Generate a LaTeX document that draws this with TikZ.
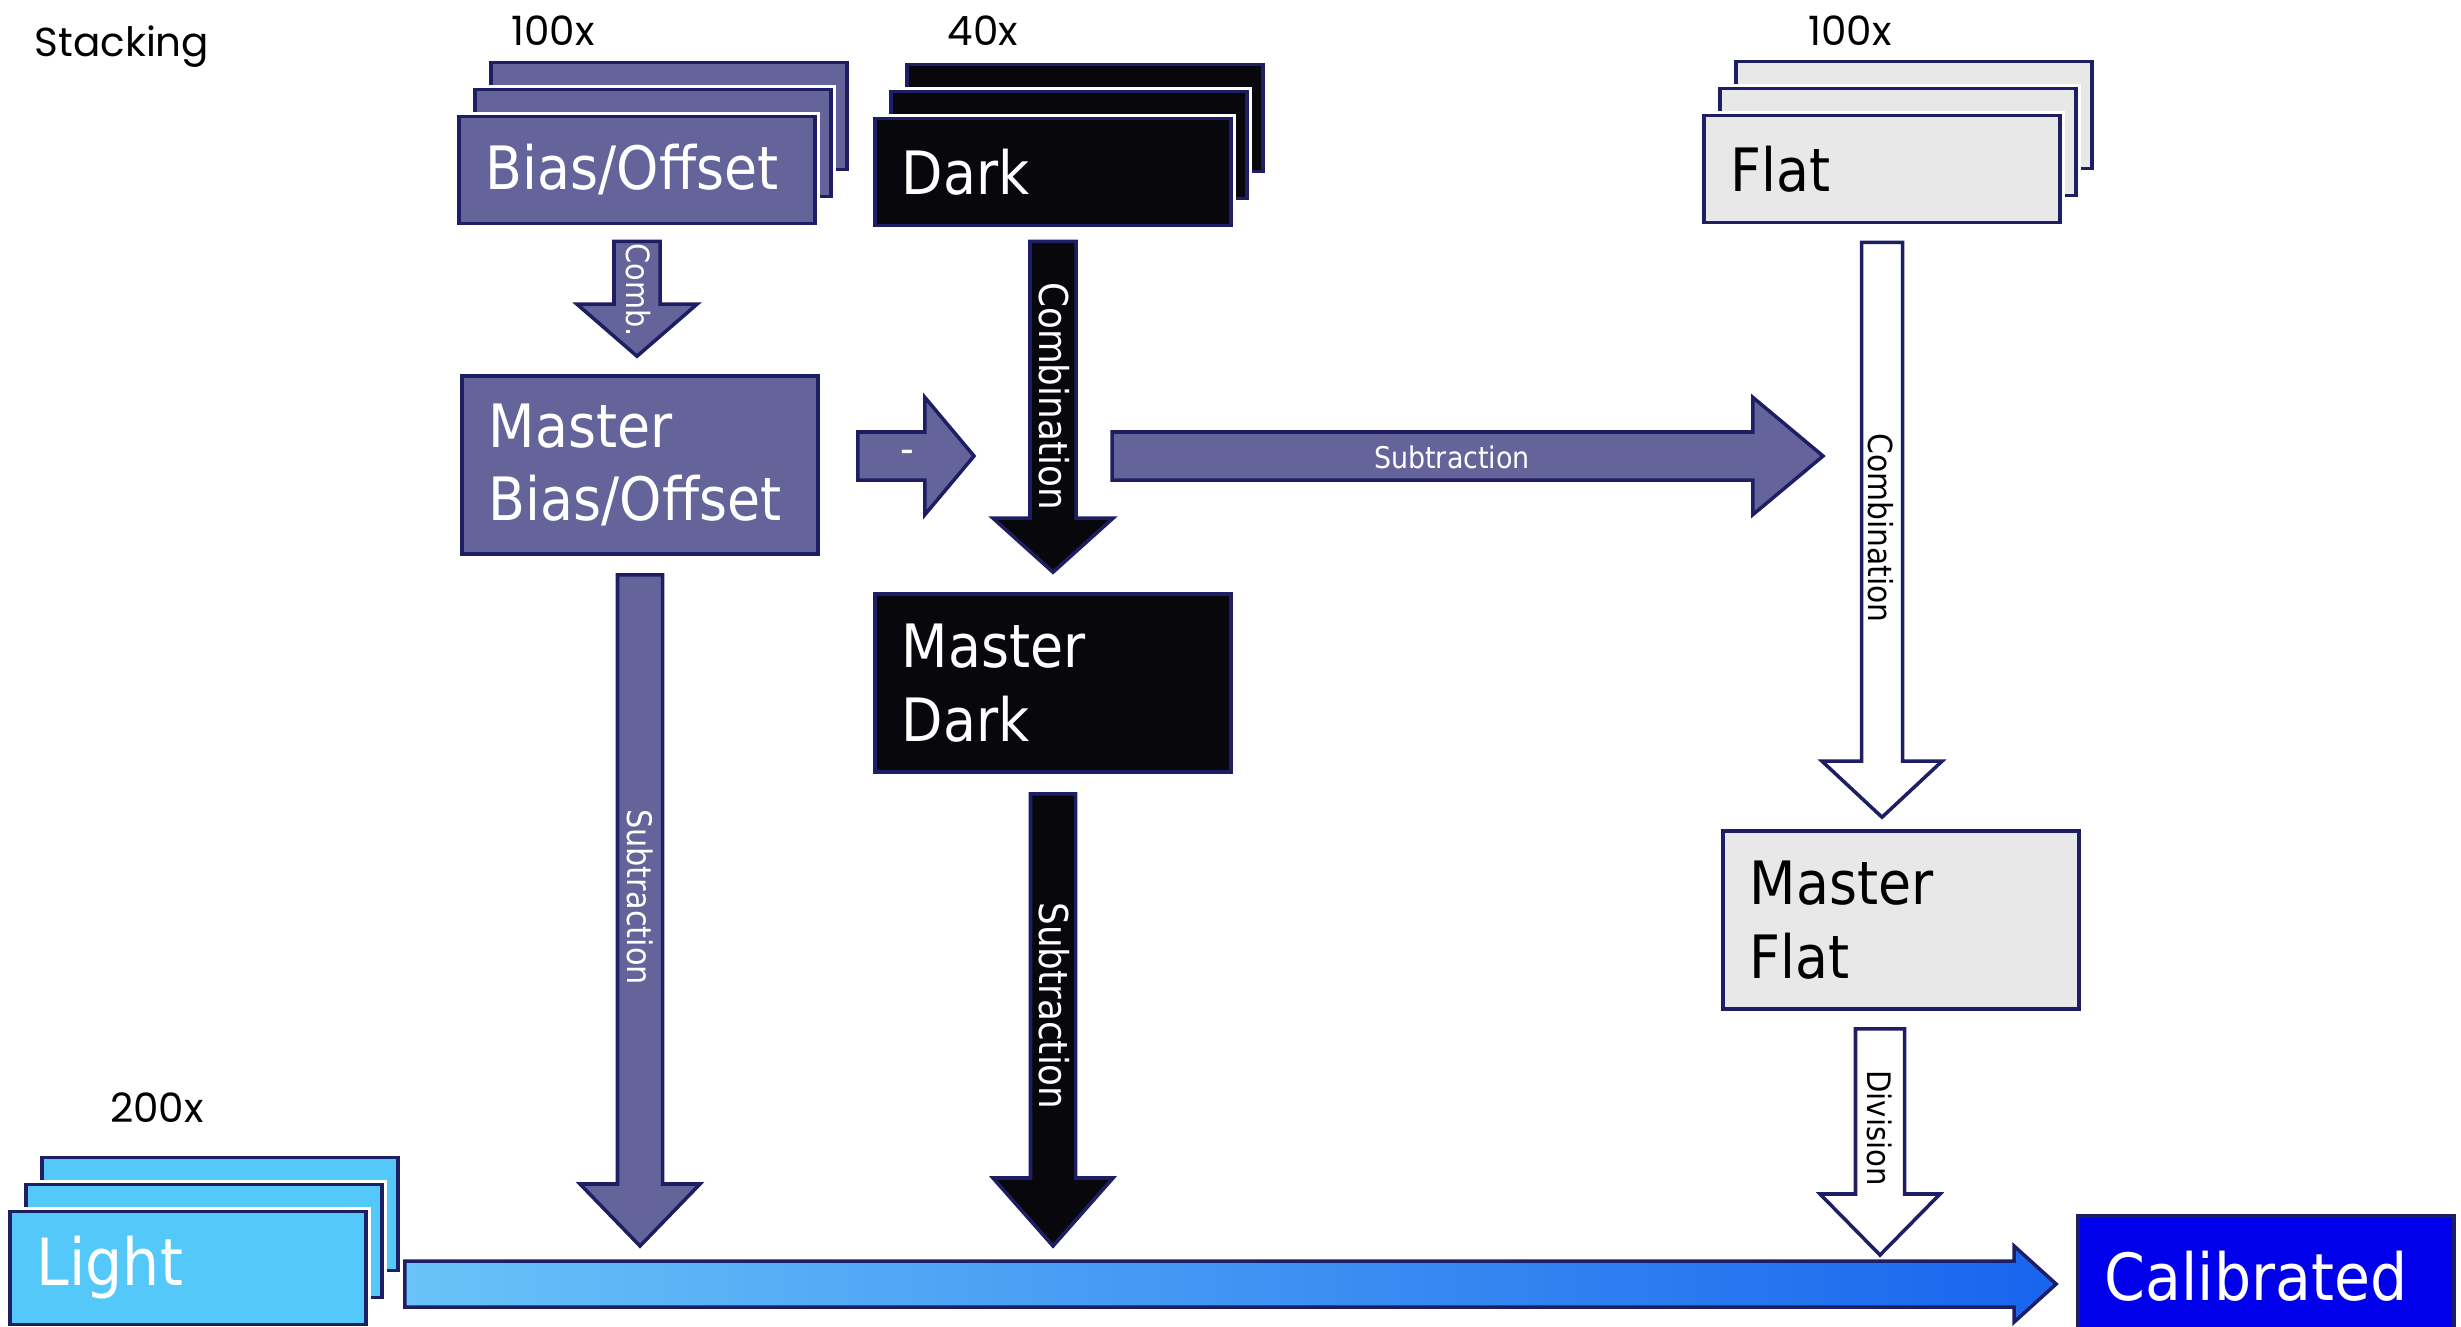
\documentclass[tikz,border=0pt]{standalone}
\usepackage{fontspec}
\setmainfont{DejaVu Sans}[FakeStretch=0.9]
\newfontfamily\countfont{Poppins}
\usetikzlibrary{calc}

\definecolor{edge}{RGB}{30,30,100}
\definecolor{biasfill}{RGB}{100,100,155}
\definecolor{darkfill}{RGB}{8,8,12}
\definecolor{flatfill}{RGB}{232,232,232}
\definecolor{lightfill}{RGB}{85,200,250}
\definecolor{calibfill}{RGB}{0,0,235}
\definecolor{skyleft}{RGB}{105,195,248}
\definecolor{skyright}{RGB}{25,100,238}

% block arrows: shaft half width, head half width, head length
\tikzset{
  fat down/.style n args={3}{to path={let \p1=(\tikztostart), \p2=(\tikztotarget) in
    (\x1-#1,\y1) -- (\x1-#1,\y2+#3) -- (\x1-#2,\y2+#3) -- (\x1,\y2)
    -- (\x1+#2,\y2+#3) -- (\x1+#1,\y2+#3) -- (\x1+#1,\y1) -- cycle}},
  fat right/.style n args={3}{to path={let \p1=(\tikztostart), \p2=(\tikztotarget) in
    (\x1,\y1+#1) -- (\x2-#3,\y1+#1) -- (\x2-#3,\y1+#2) -- (\x2,\y1)
    -- (\x2-#3,\y1-#2) -- (\x2-#3,\y1-#1) -- (\x1,\y1-#1) -- cycle}},
}

\begin{document}
\begin{tikzpicture}[x=0.01cm, y=-0.01cm,
  frame/.style={rectangle, draw=edge, line width=1pt, text=white, text width=3.02cm,
    inner xsep=0.27cm, align=left, minimum height=1.07cm,
    font=\fontsize{17}{21}\selectfont, preaction={draw=white, line width=2.5pt}},
  master/.style={frame, minimum height=1.78cm},
  bigtext/.style={font=\fontsize{18.5}{22}\selectfont},
  count/.style={font=\countfont\fontsize{11.5}{14}\selectfont},
  lbl/.style={font=\fontsize{#1}{#1}\selectfont, inner sep=0pt},
  vlbl/.style={lbl=#1, rotate=-90},
  blockline/.style={draw=edge, line width=1pt, line join=miter}]

\useasboundingbox (0,0) rectangle (2461,1326);

% Frames to stack
\path (669,116) node[frame, fill=biasfill] (bias3) {}
      +(-16,27) node[frame, fill=biasfill] (bias2) {}
      +(-32,54) node[frame, fill=biasfill] (bias) {Bias/Offset};

\path (1085,118) node[frame, fill=darkfill] (dark3) {}
      +(-16,27) node[frame, fill=darkfill] (dark2) {}
      +(-32,54) node[frame, fill=darkfill] (dark) {Dark};

\path (1914,115) node[frame, fill=flatfill] (flat3) {}
      +(-16,27) node[frame, fill=flatfill] (flat2) {}
      +(-32,54) node[frame, fill=flatfill, text=black] (flat) {Flat};

\path (220,1214) node[frame, fill=lightfill, minimum height=1.13cm] (light3) {}
      +(-16,27) node[frame, fill=lightfill, minimum height=1.13cm] (light2) {}
      +(-32,54) node[frame, fill=lightfill, minimum height=1.13cm, bigtext] (light) {Light};

% Masters and result
\node[master, fill=biasfill] (mbias) at (640,465) {Master\\Bias/Offset};
\node[master, fill=darkfill] (mdark) at (1053,683) {Master\\Dark};
\node[master, fill=flatfill, text=black] (mflat) at (1901,920) {Master\\Flat};
\node[frame, fill=calibfill, bigtext, text width=3.22cm, minimum height=1.2cm] (calib) at (2266,1276) {Calibrated};

% Counts
\node[count] (stacking) at (122,47) {Stacking};
\node[count] (nbias) at (553,31) {100x};
\node[count] (ndark) at (983,31) {40x};
\node[count] (nflat) at (1850,31) {100x};
\node[count] (nlight) at (157,1108) {200x};

% free ends
\coordinate (minustip) at (974,456);
\coordinate (substart) at (1112,456);
\coordinate (subtip) at (1823,456);
\coordinate (biastip) at (640,1246);
\coordinate (darktip) at (1054,1246);
\coordinate (flattip) at (1880,1255);

% Combination
\draw[fat down={0.23cm}{0.6cm}{0.52cm}, blockline, fill=biasfill] ([yshift=-0.16cm]bias.south) to ([yshift=0.18cm]mbias.north);
\draw[fat down={0.23cm}{0.6cm}{0.54cm}, blockline, fill=darkfill] ([yshift=-0.14cm]dark.south) to ([yshift=0.2cm]mdark.north);
\draw[fat down={0.205cm}{0.6cm}{0.56cm}, blockline, fill=white] ([yshift=-0.18cm]flat.south) to ([yshift=0.12cm]mflat.north);

\node[vlbl=9.1, text=white] (lcomb) at (638,290) {Comb.};
\node[vlbl=11.3, text=white] (ldcomb) at (1054,396) {Combination};
\node[vlbl=9.4] (lfcomb) at (1881,528) {Combination};

% Bias removed from dark
\draw[fat right={0.24cm}{0.585cm}{0.49cm}, blockline, fill=biasfill] ([xshift=0.38cm, yshift=0.09cm]mbias.east) to (minustip);
\node[lbl=12, text=white] (lminus) at (907,457) {-};
\draw[fat right={0.24cm}{0.585cm}{0.7cm}, blockline, fill=biasfill] (substart) to (subtip);
\node[lbl=8.5, text=white] (lsub) at (1452,457) {Subtraction};

% Calibration of the lights
\draw[fat down={0.225cm}{0.6cm}{0.62cm}, blockline, fill=biasfill] ([yshift=-0.19cm]mbias.south) to (biastip);
\draw[fat down={0.225cm}{0.6cm}{0.68cm}, blockline, fill=darkfill] ([yshift=-0.2cm]mdark.south) to (darktip);
\draw[fat down={0.245cm}{0.6cm}{0.61cm}, blockline, fill=white] ([xshift=-0.21cm, yshift=-0.18cm]mflat.south) to (flattip);

\node[vlbl=9.6, text=white] (lbsub) at (640,897) {Subtraction};
\node[vlbl=11.3, text=white] (ldsub) at (1054,1006) {Subtraction};
\node[vlbl=9.2] (ldiv) at (1880,1128) {Division};

\draw[fat right={0.23cm}{0.38cm}{0.42cm}, blockline, left color=skyleft, right color=skyright] ([xshift=0.37cm, yshift=-0.16cm]light.east) to ([xshift=-0.2cm]calib.west);

\end{tikzpicture}
\end{document}
